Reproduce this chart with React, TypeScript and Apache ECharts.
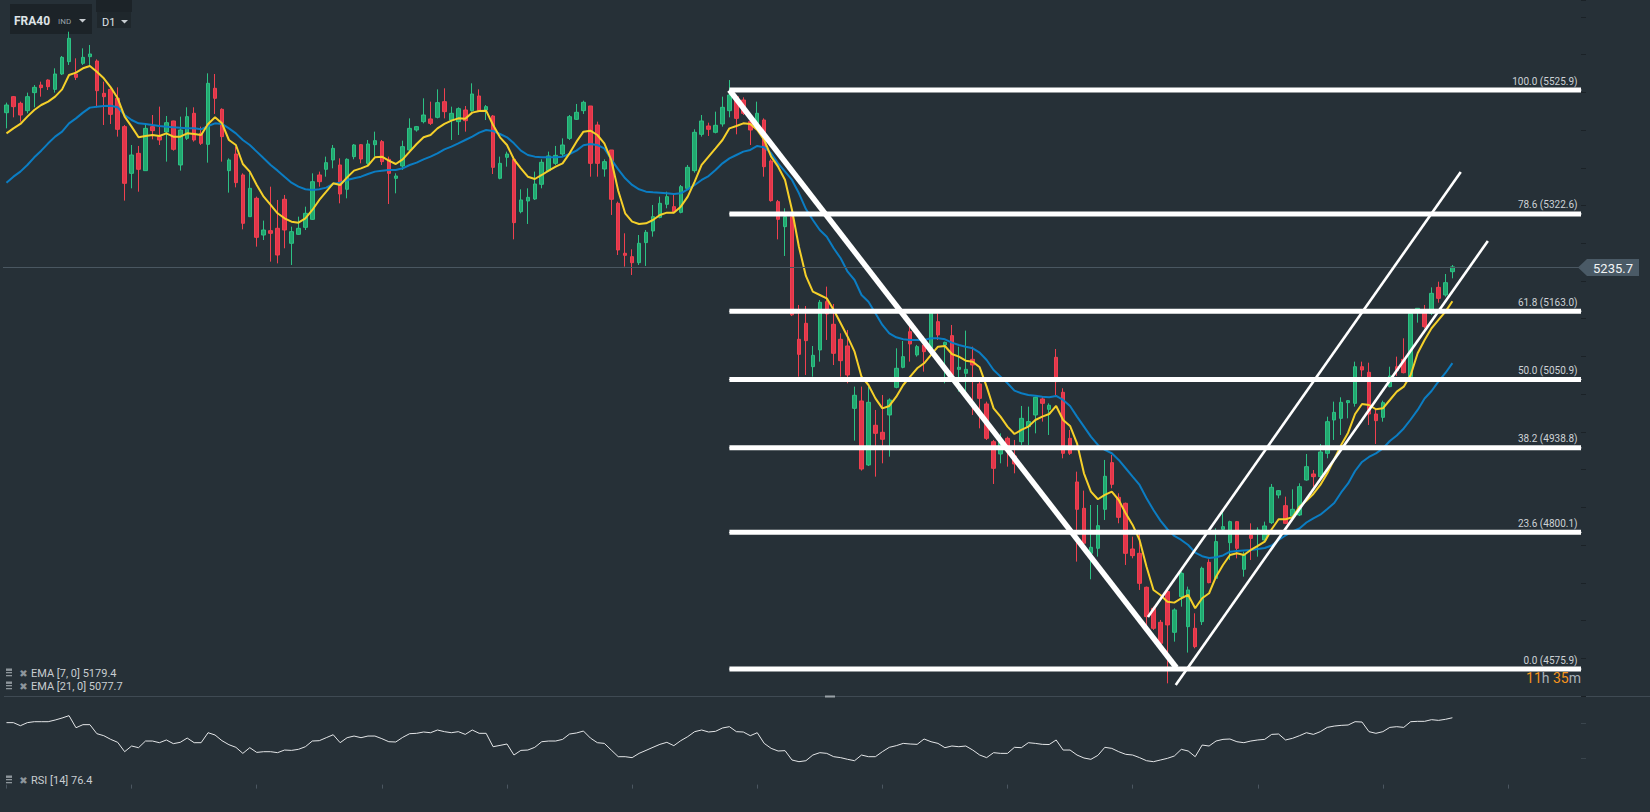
import React, { useEffect, useRef } from "react";
import * as echarts from "echarts";

// [open, close, low, high]
const ohlc: number[][] = [
  [5488.7,5501.3,5463.0,5505.2],[5515.0,5498.6,5481.1,5516.1],[5504.1,5484.9,5474.0,5506.8],[5492.0,5515.0,5487.7,5521.6],
  [5521.6,5530.3,5497.5,5534.1],[5534.1,5529.8,5515.0,5539.6],[5542.3,5531.4,5525.9,5543.4],[5527.0,5552.2,5521.6,5561.5],
  [5552.2,5579.5,5550.5,5581.7],[5572.4,5610.7,5567.0,5621.6],[5552.2,5546.7,5542.3,5577.9],[5569.7,5579.5,5567.0,5594.3],
  [5580.6,5585.0,5567.0,5599.8],[5573.5,5524.8,5497.5,5576.2],[5520.5,5515.0,5468.5,5539.6],[5527.0,5486.0,5470.2,5530.3],
  [5512.3,5461.4,5449.4,5530.3],[5465.8,5372.8,5344.4,5468.5],[5389.2,5419.3,5364.6,5435.7],[5422.0,5395.8,5359.1,5434.1],
  [5393.6,5463.0,5393.6,5471.2],[5465.8,5459.2,5445.0,5484.9],[5449.4,5443.9,5435.7,5498.6],[5457.0,5472.3,5408.4,5483.3],
  [5475.1,5428.6,5426.4,5475.6],[5402.9,5460.3,5393.6,5482.2],[5446.6,5482.2,5443.9,5497.5],[5487.7,5443.9,5441.2,5497.5],
  [5454.8,5438.4,5435.7,5465.8],[5436.8,5536.9,5406.7,5553.3],[5528.7,5512.3,5486.6,5552.2],[5494.2,5449.4,5408.4,5495.9],
  [5393.6,5411.1,5357.5,5413.8],[5420.9,5373.9,5366.2,5433.0],[5386.5,5307.2,5297.3,5389.2],[5318.1,5364.6,5318.1,5390.3],
  [5348.2,5284.2,5268.9,5350.9],[5288.0,5296.2,5279.8,5311.6],[5295.1,5290.8,5244.3,5367.3],[5299.0,5255.2,5241.5,5345.5],
  [5346.6,5296.2,5266.2,5353.7],[5274.4,5293.5,5238.8,5301.7],[5289.1,5299.0,5288.0,5318.1],[5300.6,5323.6,5296.2,5334.5],
  [5313.7,5375.5,5312.6,5389.2],[5386.5,5375.5,5367.3,5392.0],[5395.8,5406.7,5383.7,5416.6],[5411.1,5430.2,5397.4,5435.7],
  [5402.9,5355.3,5340.0,5413.8],[5363.0,5412.2,5348.2,5413.8],[5416.6,5435.7,5412.2,5437.3],[5436.2,5412.7,5405.6,5437.3],
  [5405.6,5437.3,5402.9,5443.9],[5436.2,5442.8,5416.6,5457.6],[5441.2,5408.4,5402.9,5443.9],[5412.2,5389.2,5338.9,5416.6],
  [5381.0,5384.8,5356.4,5389.2],[5401.2,5433.0,5394.7,5442.8],[5427.5,5463.0,5424.8,5479.4],[5460.3,5465.8,5457.6,5466.9],
  [5474.0,5484.9,5471.2,5512.3],[5478.4,5471.2,5468.5,5506.8],[5481.1,5505.2,5479.4,5527.0],[5506.8,5490.4,5479.4,5528.7],
  [5476.7,5487.7,5443.9,5498.6],[5474.0,5495.3,5452.1,5497.5],[5493.1,5475.6,5457.6,5499.7],[5492.0,5519.4,5490.4,5536.9],
  [5516.1,5492.0,5490.4,5527.0],[5493.1,5498.6,5476.7,5501.3],[5483.3,5399.0,5388.1,5484.9],[5381.0,5405.6,5379.4,5416.6],
  [5415.5,5420.9,5400.1,5424.8],[5412.2,5308.3,5280.9,5416.6],[5326.3,5345.5,5323.6,5363.0],[5343.8,5349.8,5306.1,5364.6],
  [5347.1,5371.7,5345.5,5392.0],[5371.2,5407.3,5364.6,5412.2],[5393.6,5417.7,5392.0,5424.8],[5405.6,5418.7,5402.9,5434.1],
  [5420.9,5435.7,5416.6,5446.6],[5446.6,5482.2,5443.9,5484.9],[5477.8,5489.3,5476.7,5503.0],[5492.0,5505.7,5486.6,5508.4],
  [5499.7,5405.6,5383.7,5499.7],[5468.5,5405.6,5383.7,5474.0],[5396.3,5408.4,5383.7,5412.2],[5427.5,5346.6,5320.9,5427.5],
  [5340.0,5263.4,5255.2,5342.7],[5258.0,5254.7,5236.1,5290.8],[5252.5,5242.6,5222.4,5264.5],[5242.6,5274.4,5238.8,5288.0],
  [5275.5,5292.4,5237.2,5296.2],[5294.6,5318.1,5285.3,5337.3],[5317.0,5340.0,5315.4,5350.9],[5338.4,5350.9,5331.8,5359.1],
  [5334.5,5326.3,5323.6,5353.7],[5325.2,5367.3,5323.6,5370.1],[5364.6,5399.0,5361.9,5402.9],[5393.6,5456.5,5390.3,5461.4],
  [5453.2,5475.1,5449.4,5484.9],[5466.9,5461.4,5450.5,5472.3],[5456.5,5468.0,5454.8,5490.4],[5470.2,5497.5,5465.8,5515.0],
  [5492.0,5517.7,5481.1,5542.3],[5515.0,5479.4,5453.2,5517.7],[5509.5,5487.7,5484.9,5513.9],[5474.0,5460.3,5435.7,5479.4],
  [5471.2,5487.7,5465.8,5506.8],[5476.7,5400.1,5383.7,5479.4],[5409.4,5344.4,5342.7,5412.2],[5342.7,5313.7,5280.9,5345.5],
  [5301.7,5318.1,5253.6,5331.8],[5318.0,5157.0,5155.0,5320.0],[5116.9,5092.2,5055.6,5173.2],[5143.1,5114.7,5058.3,5171.5],
  [5072.0,5090.6,5055.6,5105.9],[5099.4,5177.6,5080.2,5181.4],[5178.7,5158.4,5115.8,5203.3],[5141.5,5093.9,5074.7,5174.8],
  [5116.9,5081.8,5055.6,5126.7],[5105.9,5058.3,5044.7,5132.2],[5003.6,5025.0,4950.6,5039.2],[5015.7,4904.1,4901.4,5039.2],
  [4910.7,5013.5,4909.0,5039.2],[4975.8,4962.6,4891.5,5000.9],[4964.3,4952.8,4913.4,5025.5],[4992.7,5017.3,4924.3,5020.0],
  [5038.1,5069.3,5036.5,5102.1],[5070.9,5088.4,5069.3,5114.1],[5129.4,5109.2,5080.2,5143.1],[5091.2,5104.8,5088.4,5107.6],
  [5107.6,5096.6,5063.8,5121.2],[5102.1,5162.2,5099.4,5165.0],[5145.8,5124.0,5115.8,5159.5],[5107.6,5111.9,5044.7,5113.0],
  [5122.9,5058.3,5055.6,5140.4],[5067.6,5070.9,5031.0,5104.8],[5061.1,5067.6,5025.5,5131.1],[5084.0,5074.7,4992.7,5104.8],
  [5043.6,5020.0,4970.8,5050.1],[5010.8,4954.4,4951.7,5014.6],[4948.9,4905.2,4879.5,4951.7],[4928.7,4948.9,4913.4,4962.6],
  [4954.4,4940.8,4907.9,4957.2],[4925.4,4912.3,4897.0,4951.7],[4948.9,4987.2,4943.5,5007.5],[4973.6,4981.8,4943.5,5006.4],
  [4992.7,5021.7,4962.6,5022.8],[5019.0,5011.8,4981.8,5022.8],[5002.0,5008.6,4959.9,5011.8],[5087.3,5047.4,5025.5,5101.0],
  [5029.9,4929.8,4921.6,5036.5],[4954.4,4929.8,4927.1,4968.1],[4882.8,4837.9,4752.1,4899.7],[4839.6,4782.2,4779.4,4868.6],
  [4765.7,4775.6,4723.1,4845.0],[4774.0,4811.1,4760.3,4845.0],[4837.9,4892.1,4820.4,4918.9],[4914.5,4878.9,4872.4,4927.1],
  [4857.6,4824.8,4815.0,4864.2],[4847.8,4765.7,4746.6,4848.9],[4772.8,4761.9,4757.5,4793.1],[4765.7,4716.5,4705.6,4798.6],
  [4710.0,4661.8,4645.4,4711.1],[4675.5,4642.7,4640.0,4678.2],[4652.5,4618.1,4617.0,4656.4],[4702.9,4648.2,4552.4,4705.6],
  [4636.1,4672.8,4620.8,4675.5],[4694.6,4732.9,4678.2,4735.7],[4645.4,4705.6,4602.8,4711.1],[4642.7,4612.6,4609.9,4667.3],
  [4653.6,4741.1,4648.1,4743.8],[4750.9,4717.6,4716.5,4755.9],[4724.7,4784.9,4723.1,4806.7],[4805.1,4809.5,4801.3,4834.1],
  [4783.2,4817.7,4754.8,4819.3],[4817.7,4773.9,4757.5,4818.8],[4739.5,4763.0,4727.4,4768.4],[4795.8,4790.3,4754.8,4814.9],
  [4798.5,4804.0,4760.2,4808.4],[4787.6,4810.6,4784.9,4817.7],[4816.0,4874.0,4813.8,4879.5],[4861.4,4868.5,4855.9,4869.6],
  [4843.9,4814.9,4813.8,4858.7],[4826.9,4837.9,4820.4,4870.7],[4828.6,4875.1,4826.9,4880.6],[4886.0,4907.9,4884.9,4928.7],
  [4895.9,4891.5,4875.1,4902.4],[4891.5,4932.0,4890.4,4945.1],[4929.8,4981.7,4921.6,4989.9],[4984.5,4997.0,4951.7,5014.6],
  [4987.2,5013.5,4959.9,5021.7],[5012.9,5016.2,4987.2,5017.3],[5011.8,5071.9,5006.4,5080.2],[5071.9,5066.5,5055.6,5080.2],
  [5062.7,4994.3,4976.3,5078.5],[4994.3,4983.4,4945.1,5003.6],[4988.8,5012.9,4981.7,5016.2],[5039.2,5056.7,5038.1,5071.9],
  [5071.9,5065.4,5056.7,5088.4],[5084.0,5062.1,5061.0,5118.5],[5055.6,5159.5,5054.5,5160.6],[5164.9,5167.7,5144.2,5167.7],
  [5162.2,5137.6,5134.9,5173.2],[5159.5,5192.3,5156.7,5202.1],[5202.1,5184.1,5177.0,5211.4],[5189.6,5209.8,5186.8,5224.0],
  [5227.8,5235.7,5216.9,5238.8]
];

const ema7: number[] = [
  5454.8,5463.0,5470.2,5482.2,5493.1,5501.3,5506.8,5515.0,5527.0,5550.5,5554.4,5561.5,5565.3,5556.0,5545.1,5530.3,5512.3,5482.2,5465.8,5448.3,
  5450.5,5452.1,5450.5,5454.8,5449.4,5449.4,5454.8,5453.7,5452.1,5470.2,5481.1,5471.2,5443.9,5435.7,5404.5,5392.0,5370.1,5350.9,5337.3,5323.6,
  5315.4,5309.9,5308.3,5315.4,5329.1,5345.5,5359.1,5372.8,5370.1,5382.6,5393.6,5397.4,5401.8,5415.5,5416.6,5410.0,5404.5,5412.2,5424.8,5437.3,
  5448.3,5452.1,5463.0,5470.2,5475.6,5479.4,5478.9,5488.8,5491.5,5492.0,5468.5,5448.3,5435.7,5412.2,5397.4,5383.7,5379.9,5386.5,5393.6,5400.1,
  5405.6,5422.0,5441.2,5457.6,5459.2,5452.1,5438.4,5411.1,5360.5,5323.6,5309.9,5306.1,5307.2,5312.6,5320.9,5324.7,5324.7,5334.5,5350.9,5375.5,
  5402.9,5416.6,5430.2,5443.9,5463.0,5466.9,5471.2,5470.2,5460.3,5443.9,5416.6,5400.1,5378.3,5329.1,5268.4,5220.8,5195.1,5189.6,5184.1,5165.0,
  5143.1,5121.2,5096.6,5055.6,5041.9,5020.0,5003.6,5007.5,5022.7,5041.9,5055.6,5069.3,5077.5,5091.2,5104.8,5105.9,5092.8,5088.4,5081.8,5080.2,
  5070.9,5039.2,5003.6,4990.0,4973.6,4961.5,4968.1,4973.6,4984.5,4990.0,4994.3,5007.5,4984.5,4974.7,4946.2,4897.0,4866.9,4854.4,4861.5,4866.9,
  4853.2,4831.4,4812.3,4787.6,4743.8,4705.6,4697.4,4686.4,4684.8,4692.0,4697.4,4675.5,4692.0,4700.2,4727.4,4746.6,4763.0,4765.8,4763.0,4771.2,
  4777.8,4784.8,4805.2,4821.6,4821.6,4824.9,4842.3,4852.1,4863.1,4877.9,4897.1,4920.0,4943.5,4963.7,4994.3,5010.8,5009.1,5002.1,5003.7,5017.3,
  5031.0,5039.2,5058.3,5094.0,5115.8,5135.0,5148.6,5162.2,5179.4
];

const ema21: number[] = [
  5373.9,5383.7,5392.0,5402.9,5415.5,5426.4,5438.4,5449.4,5457.6,5471.2,5479.4,5488.8,5497.0,5498.6,5499.7,5500.2,5497.5,5484.9,5476.7,5471.2,
  5470.2,5468.5,5466.9,5465.8,5464.7,5464.1,5463.0,5463.0,5461.4,5466.9,5471.2,5470.2,5463.0,5454.8,5443.9,5435.7,5424.8,5413.8,5402.9,5393.6,
  5383.7,5373.9,5367.3,5363.0,5361.9,5363.0,5365.7,5371.7,5373.9,5378.3,5381.0,5383.7,5388.1,5392.0,5393.6,5394.7,5394.7,5397.4,5402.9,5406.7,
  5412.2,5416.6,5422.0,5428.6,5433.0,5438.4,5443.9,5449.4,5455.9,5460.3,5458.7,5453.7,5448.3,5438.4,5426.4,5419.3,5416.6,5415.5,5415.5,5415.5,
  5416.6,5420.9,5426.4,5435.2,5437.3,5435.7,5430.2,5412.2,5395.8,5381.0,5370.1,5363.0,5359.1,5358.0,5357.5,5356.4,5355.3,5356.4,5363.0,5370.1,
  5378.3,5384.8,5394.7,5405.6,5413.8,5419.3,5424.8,5427.5,5434.1,5431.9,5422.0,5405.6,5392.0,5378.3,5356.4,5330.6,5312.6,5296.2,5285.3,5266.2,
  5249.8,5227.8,5214.2,5189.6,5178.6,5159.5,5140.4,5126.7,5120.2,5116.9,5115.8,5115.8,5115.8,5118.5,5118.5,5116.9,5111.4,5107.6,5104.8,5102.1,
  5094.9,5082.9,5066.5,5055.6,5044.7,5032.6,5028.3,5025.5,5024.4,5022.7,5021.7,5023.9,5017.3,5007.5,4990.0,4973.6,4957.1,4943.5,4935.3,4929.9,
  4918.9,4905.3,4891.5,4877.9,4856.0,4836.8,4819.3,4805.2,4794.2,4787.6,4779.4,4766.8,4761.0,4758.1,4759.2,4762.2,4768.3,4769.6,4770.4,4771.2,
  4772.9,4774.5,4778.6,4787.6,4795.0,4801.6,4806.5,4816.3,4823.2,4829.1,4838.5,4848.3,4865.6,4880.3,4900.8,4915.6,4923.8,4929.6,4937.7,4950.0,
  4959.1,4970.6,4985.3,5001.0,5019.8,5032.1,5047.7,5061.6,5077.7
];

const rsi14: number[] = [
  70.8,70.8,67.3,70.8,71.9,71.9,71.9,73.8,76.1,78.8,65.0,68.5,68.5,58.2,55.9,51.7,48.3,37.6,44.1,42.2,
  49.8,49.8,47.9,51.0,46.8,48.3,53.2,47.9,47.9,59.3,56.7,50.2,45.6,42.6,35.7,42.2,36.8,37.6,37.6,36.5,
  39.5,39.1,40.3,43.3,49.8,50.2,53.6,57.0,47.9,53.6,55.5,53.6,55.5,55.5,52.5,49.0,48.7,54.0,58.2,58.6,
  60.1,59.3,62.4,60.5,59.3,60.5,57.4,62.4,58.6,58.6,43.3,44.8,46.4,33.8,39.1,39.5,42.6,49.0,49.8,49.8,
  51.7,57.8,59.0,61.2,53.2,47.9,47.1,39.5,31.9,31.9,30.8,35.7,39.1,42.6,46.0,48.3,44.5,50.2,54.8,60.5,
  62.4,60.1,60.9,64.7,66.2,60.5,60.1,55.9,59.3,47.1,41.4,38.4,38.8,28.1,26.2,27.3,33.8,36.5,35.7,
  31.9,30.8,28.9,27.3,33.8,31.9,31.9,37.6,42.6,44.5,47.1,46.4,46.0,52.1,49.0,47.1,42.2,44.1,43.3,44.1,
  39.5,33.8,30.8,36.5,35.7,35.7,42.6,42.2,47.9,47.1,46.0,45.8,51.0,39.5,39.5,33.8,30.4,28.9,33.4,42.6,
  41.4,37.6,34.6,33.8,30.8,27.3,26.2,28.1,30.0,32.7,40.3,38.4,31.9,45.2,44.1,49.8,51.7,52.1,49.0,47.9,
  49.8,51.0,51.7,57.4,57.8,51.0,52.9,55.9,59.3,57.4,60.5,65.4,66.9,67.7,68.1,71.9,71.5,60.5,58.6,60.5,
  65.4,66.2,65.4,71.9,72.3,72.3,74.2,73.4,74.6,76.4
];

const slotLabels: string[] = Array.from({ length: 227 }, (_, i) => `D${i + 1}`);

const fibRatios = [100.0, 78.6, 61.8, 50.0, 38.2, 23.6, 0.0];
const fibPrices = [5525.9, 5322.6, 5163.0, 5050.9, 4938.8, 4800.1, 4575.9];
const fibStartIndex = 104;
const fibEndIndex = 226.5;

const trendDown: number[][] = [[104, 5525.9], [168.3, 4578.0]];
const channelUpper: number[][] = [[164.2, 4661.3], [209.2, 5391.4]];
const channelLower: number[][] = [[168.2, 4549.7], [213.1, 5278.2]];

const lastPrice = 5235.7;
const symbolName = "FRA40";
const symbolType = "IND";
const timeframe = "D1";
const legendEma7 = "EMA [7, 0] 5179.4";
const legendEma21 = "EMA [21, 0] 5077.7";
const legendRsi = "RSI [14] 76.4";

const BG = "#263037";
const GREEN = "#22a86f";
const GREEN_B = "#2cc184";
const RED = "#e2364b";
const RED_B = "#f0404f";

function legendRow(y: number, label: string): any[] {
  return [
    { type: "rect", shape: { x: 6, y: y - 4.5, width: 6, height: 2.4 }, style: { fill: "#8e969c" } },
    { type: "rect", shape: { x: 6, y: y - 1, width: 6, height: 1.3 }, style: { fill: "#8e969c" } },
    { type: "rect", shape: { x: 6, y: y + 2, width: 6, height: 1.3 }, style: { fill: "#8e969c" } },
    { type: "text", x: 23.5, y: y, style: { text: "\u2716", fill: "#8e969c", font: "10px 'DejaVu Sans'", align: "center", verticalAlign: "middle", textAlign: "center", textVerticalAlign: "middle" } },
    { type: "text", x: 31, y: y, style: { text: label, fill: "#c8cdd1", font: "11px Roboto", align: "left", verticalAlign: "middle", textAlign: "left", textVerticalAlign: "middle" } },
  ];
}

export default function App() {
  const ref = useRef<HTMLDivElement>(null);
  useEffect(() => {
    if (!ref.current) return;
    const chart = echarts.init(ref.current, undefined, { renderer: "svg" });

    const fibSeries: any[] = fibPrices.map((p, k) => ({
      type: "line",
      xAxisIndex: 1,
      yAxisIndex: 0,
      z: 5,
      silent: true,
      symbol: "circle",
      symbolSize: 1,
      showSymbol: true,
      itemStyle: { color: "#ffffff" },
      lineStyle: { color: "#ffffff", width: 5 },
      data: [
        [fibStartIndex, p],
        {
          value: [fibEndIndex, p],
          label: {
            show: true,
            position: "left",
            distance: 3,
            offset: [0, -9],
            formatter: `${fibRatios[k].toFixed(1)} (${p.toFixed(1)})`,
            color: "#cdd2d6",
            fontSize: 10,
            fontFamily: "Roboto",
          },
        },
      ],
    }));

    const trendSeries = (data: number[][], width: number) => ({
      type: "line",
      xAxisIndex: 1,
      yAxisIndex: 0,
      z: 6,
      silent: true,
      symbol: "none",
      showSymbol: false,
      lineStyle: { color: "#ffffff", width },
      data,
    });

    const option: any = {
      animation: false,
      backgroundColor: BG,
      grid: [
        { left: 3, width: 1578, top: 0, height: 696 },
        { left: 3, width: 1578, top: 697.1, height: 87.5 },
      ],
      xAxis: [
        { type: "category", gridIndex: 0, data: slotLabels, show: false },
        { type: "value", gridIndex: 0, min: -0.5, max: 226.5, show: false },
        {
          type: "category",
          gridIndex: 1,
          data: slotLabels,
          axisLine: { show: false },
          axisLabel: { show: false },
          axisTick: { show: true, alignWithLabel: true, interval: 17, length: 4, lineStyle: { color: "#4b5660" } },
        },
      ],
      yAxis: [
        {
          type: "value",
          gridIndex: 0,
          position: "right",
          min: 4531.6,
          max: 5673.6,
          interval: 61.9,
          axisLine: { show: false, onZero: false },
          axisLabel: { show: false },
          splitLine: { show: false },
          axisTick: { show: true, length: 5, lineStyle: { color: "#1b2227" } },
        },
        {
          type: "value",
          gridIndex: 1,
          position: "right",
          min: 0,
          max: 100,
          axisLine: { show: false, onZero: false },
          axisLabel: { show: false },
          splitLine: { show: false },
          axisTick: { show: true, length: 5, customValues: [30, 70], lineStyle: { color: "#3a454d" } },
        },
      ],
      series: [
        {
          type: "candlestick",
          xAxisIndex: 0,
          yAxisIndex: 0,
          z: 2,
          barWidth: 4,
          data: ohlc,
          itemStyle: { color: GREEN, color0: RED, borderColor: GREEN_B, borderColor0: RED_B, borderWidth: 1 },
          markLine: {
            silent: true,
            symbol: "none",
            label: { show: false },
            lineStyle: { color: "#4a5761", width: 1, type: "solid" },
            data: [{ yAxis: lastPrice }],
          },
        },
        {
          type: "line",
          xAxisIndex: 0,
          yAxisIndex: 0,
          z: 3,
          data: ema21,
          showSymbol: false,
          symbol: "none",
          lineStyle: { color: "#0b7dc3", width: 2 },
        },
        {
          type: "line",
          xAxisIndex: 0,
          yAxisIndex: 0,
          z: 4,
          data: ema7,
          showSymbol: false,
          symbol: "none",
          lineStyle: { color: "#f5d02a", width: 2 },
        },
        ...fibSeries,
        trendSeries(trendDown, 5.5),
        trendSeries(channelUpper, 2.6),
        trendSeries(channelLower, 2.6),
        {
          type: "line",
          xAxisIndex: 2,
          yAxisIndex: 1,
          data: rsi14,
          showSymbol: false,
          symbol: "none",
          lineStyle: { color: "#e4e6e8", width: 1 },
        },
      ],
      graphic: [
        { type: "line", shape: { x1: 4, y1: 696.5, x2: 1650, y2: 696.5 }, style: { stroke: "#3f4a53", lineWidth: 1 } },
        { type: "rect", shape: { x: 825, y: 695.5, width: 10, height: 2 }, style: { fill: "#9aa2a8" } },
        { type: "rect", shape: { x: 10, y: 4, width: 82, height: 30 }, style: { fill: "#1c2328" } },
        { type: "text", x: 14, y: 21, style: { text: symbolName, fill: "#dfe3e6", font: "bold 12px Roboto", align: "left", verticalAlign: "middle", textAlign: "left", textVerticalAlign: "middle" } },
        { type: "text", x: 58, y: 21, style: { text: symbolType, fill: "#9aa3aa", font: "8px Roboto", align: "left", verticalAlign: "middle", textAlign: "left", textVerticalAlign: "middle" } },
        { type: "polygon", shape: { points: [[79, 19], [86, 19], [82.5, 22.5]] }, style: { fill: "#c8cdd1" } },
        { type: "rect", shape: { x: 96, y: 0, width: 36, height: 12 }, style: { fill: "#1c2328" } },
        { type: "rect", shape: { x: 97, y: 12, width: 34, height: 16 }, style: { fill: "#1f272c" } },
        { type: "text", x: 102, y: 22, style: { text: timeframe, fill: "#dfe3e6", font: "11px Roboto", align: "left", verticalAlign: "middle", textAlign: "left", textVerticalAlign: "middle" } },
        { type: "polygon", shape: { points: [[121, 20], [128, 20], [124.5, 23.5]] }, style: { fill: "#c8cdd1" } },
        { type: "polygon", shape: { points: [[1578, 267.5], [1587, 259], [1639, 259], [1639, 276], [1587, 276]] }, style: { fill: "#4a5a66" } },
        { type: "text", x: 1613, y: 268, style: { text: lastPrice.toFixed(1), fill: "#f2f4f5", font: "13px Roboto", align: "center", verticalAlign: "middle", textAlign: "center", textVerticalAlign: "middle" } },
        {
          type: "text",
          x: 1581,
          y: 678,
          style: {
            text: "{o|11}{g|h} {o|35}{g|m}",
            align: "right",
            verticalAlign: "middle",
            textAlign: "right",
            textVerticalAlign: "middle",
            font: "14px Roboto",
            fill: "#a9b2b8",
            rich: {
              o: { fill: "#f5941d", color: "#f5941d", fontSize: 14, fontFamily: "Roboto" },
              g: { fill: "#a9b2b8", color: "#a9b2b8", fontSize: 14, fontFamily: "Roboto" },
            },
          },
        },
        ...legendRow(673, legendEma7),
        ...legendRow(686, legendEma21),
        ...legendRow(780, legendRsi),
      ],
    };

    chart.setOption(option);
    return () => chart.dispose();
  }, []);

  return (
    <div
      ref={ref}
      style={{ position: "absolute", left: 0, top: 0, width: 1650, height: 812, background: BG }}
    />
  );
}
